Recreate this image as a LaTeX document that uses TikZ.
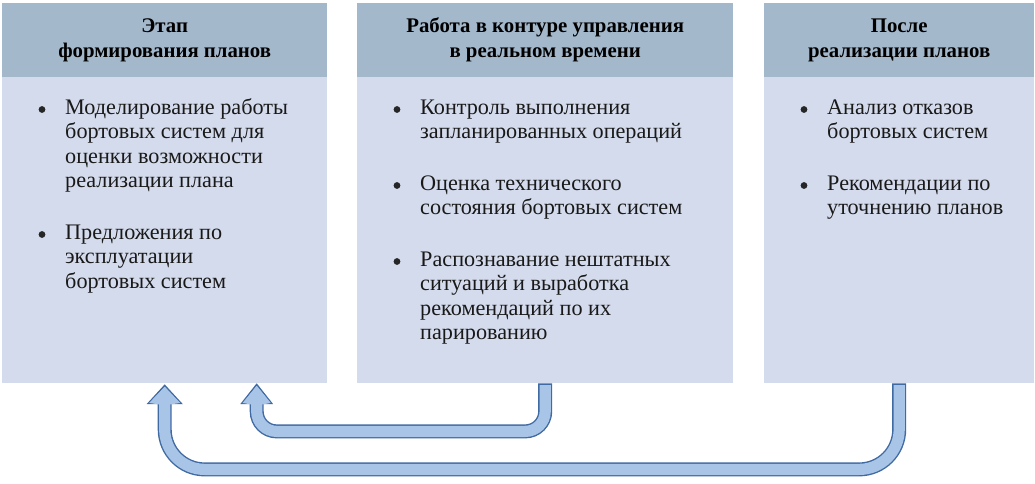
\documentclass[tikz,border=0pt]{standalone}
\usepackage{fontspec}
\setmainfont{Liberation Serif}
\usetikzlibrary{calc}
\definecolor{hdrcol}{RGB}{164,184,204}
\definecolor{bodycol}{RGB}{212,219,236}
\definecolor{arrfill}{RGB}{168,196,230}
\definecolor{arrline}{RGB}{64,106,162}
\tikzset{
  hdr/.style={fill=hdrcol, draw=none, anchor=north west, inner sep=0pt, align=center,
    font=\fontsize{20.8}{25}\selectfont\bfseries},
  bodybox/.style={fill=bodycol, draw=none, anchor=north west, inner sep=0pt},
  itemtext/.style={anchor=base west, inner sep=0pt, text=black!90, font=\fontsize{22.2}{24.6}\selectfont},
  bul/.style={fill=black!85, radius=3.4pt},
}
\newcommand{\btext}[2]{\parbox[t]{#1}{\raggedright #2}}
\begin{document}
\begin{tikzpicture}[x=1pt,y=-1pt]
\useasboundingbox (0,0) rectangle (1035,484);
% boxes
\node[bodybox, minimum width=325pt, minimum height=307pt] (b1) at (2,76) {};
\node[hdr, minimum width=325pt, minimum height=74pt] (h1) at (2,3) {Этап\\формирования планов};
\node[bodybox, minimum width=376pt, minimum height=307pt] (b2) at (357,76) {};
\node[hdr, minimum width=376pt, minimum height=74pt] (h2) at (357,3) {Работа в контуре управления\\в реальном времени};
\node[bodybox, minimum width=270pt, minimum height=307pt] (b3) at (764,76) {};
\node[hdr, minimum width=270pt, minimum height=74pt] (h3) at (764,3) {После\\реализации планов};
% items
\node[itemtext] (i11) at (65,114) {\btext{260pt}{Моделирование работы\\бортовых систем для\\оценки возможности\\реализации плана}};
\node[itemtext] (i12) at (65,239) {\btext{260pt}{Предложения по\\эксплуатации\\бортовых систем}};
\node[itemtext] (i21) at (420,114) {\btext{310pt}{Контроль выполнения\\запланированных операций}};
\node[itemtext] (i22) at (420,190) {\btext{310pt}{Оценка технического\\состояния бортовых систем}};
\node[itemtext] (i23) at (420,266) {\btext{310pt}{Распознавание нештатных\\ситуаций и выработка\\рекомендаций по их\\парированию}};
\node[itemtext] (i31) at (827,114) {\btext{205pt}{Анализ отказов\\бортовых систем}};
\node[itemtext] (i32) at (827,190) {\btext{205pt}{Рекомендации по\\уточнению планов}};
% bullets
\foreach \n in {i11,i12,i21,i22,i23,i31,i32}
  \fill[bul] ($(\n.base west)+(-23,-4.5)$) circle;
% arrows
\coordinate (s2) at (b2.south);
\coordinate (s3) at (b3.south);
\coordinate (t1) at ($(b1.south)+(92,0)$);
\coordinate (t0) at (b1.south);
% inner arrow
\draw[arrline, line width=14pt, rounded corners=20pt] (s2) |- ($(t1)+(0,48)$) -- ($(t1)+(0,19)$);
\filldraw[fill=arrfill, draw=arrline, line width=1.4pt, line join=miter]
  ($(t1)+(-7,20)$) -- ($(t1)+(-15,20)$) -- ($(t1)+(0,1)$) -- ($(t1)+(15,20)$) -- ($(t1)+(7,20)$);
\fill[arrfill] ($(t1)+(-6.2,21)$) -- ($(t1)+(-14,19.5)$) -- ($(t1)+(0,2.5)$) -- ($(t1)+(14,19.5)$) -- ($(t1)+(6.2,21)$) -- cycle;
\draw[arrfill, line width=11.2pt, rounded corners=20pt] ($(s2)+(0,1.6)$) |- ($(t1)+(0,48)$) -- ($(t1)+(0,19)$);
% outer arrow
\draw[arrline, line width=14pt, rounded corners=40pt] (s3) |- ($(t0)+(0,86)$) -- ($(t0)+(0,19)$);
\filldraw[fill=arrfill, draw=arrline, line width=1.4pt, line join=miter]
  ($(t0)+(-7,20)$) -- ($(t0)+(-16.5,20)$) -- ($(t0)+(0,2)$) -- ($(t0)+(16.5,20)$) -- ($(t0)+(7,20)$);
\fill[arrfill] ($(t0)+(-6.2,21)$) -- ($(t0)+(-15.5,19.5)$) -- ($(t0)+(0,3.5)$) -- ($(t0)+(15.5,19.5)$) -- ($(t0)+(6.2,21)$) -- cycle;
\draw[arrfill, line width=11.2pt, rounded corners=40pt] ($(s3)+(0,1.6)$) |- ($(t0)+(0,86)$) -- ($(t0)+(0,19)$);
\end{tikzpicture}
\end{document}
